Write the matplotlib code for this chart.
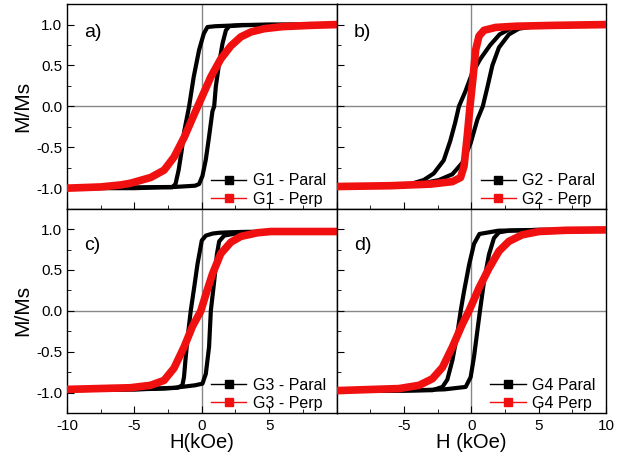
import matplotlib
matplotlib.use("Agg")
import matplotlib.pyplot as plt
from matplotlib.lines import Line2D
from matplotlib.ticker import MultipleLocator

plt.rcParams['font.family'] = ['Liberation Sans', 'DejaVu Sans']
plt.rcParams['axes.unicode_minus'] = False

# valores: ramo ascendente (up), descendente (down) e perpendicular
a_up_H = [-10, -5, -2, -0.5, -0.2, 0.05, 0.30, 0.54, 0.79, 0.92, 1.04, 1.29, 1.54, 1.79, 2.03, 3, 10]
a_up_M = [-1.0, -0.99, -0.985, -0.97, -0.95, -0.85, -0.65, -0.37, -0.06, 0.0, 0.24, 0.53, 0.77, 0.93, 0.98, 0.995, 1.0]
a_dn_H = [10, 5, 2.5, 1.0, 0.42, 0.15, -0.2, -0.6, -0.94, -1.3, -1.5, -1.72, -1.95, -2.2, -3, -5, -10]
a_dn_M = [1.0, 1.0, 0.99, 0.98, 0.97, 0.89, 0.69, 0.36, 0.0, -0.3, -0.55, -0.78, -0.95, -0.99, -0.99, -1.0, -1.0]
a_pp_H = [-10, -7.5, -6, -5.3, -3.8, -2.8, -2.06, -1.31, -0.57, -0.3, 0.67, 1.41, 2.16, 2.9, 3.65, 4.64, 6, 8, 10]
a_pp_M = [-1.0, -0.985, -0.96, -0.94, -0.87, -0.78, -0.62, -0.38, -0.10, 0.0, 0.36, 0.58, 0.74, 0.85, 0.91, 0.95, 0.975, 0.99, 1.0]

b_up_H = [-10, -6, -3.87, -2.4, -1.41, -0.67, -0.05, 0.45, 0.85, 1.2, 1.56, 2.05, 2.79, 3.53, 4.52, 6, 10]
b_up_M = [-0.98, -0.97, -0.95, -0.90, -0.83, -0.69, -0.45, -0.16, 0.0, 0.24, 0.50, 0.72, 0.88, 0.95, 0.975, 0.99, 1.0]
b_dn_H = [10, 6, 4.0, 2.9, 2.1, 1.4, 0.67, 0.05, -0.45, -0.92, -1.2, -1.56, -2.05, -2.79, -3.53, -4.52, -6, -10]
b_dn_M = [1.0, 0.99, 0.975, 0.95, 0.88, 0.75, 0.58, 0.40, 0.18, 0.0, -0.2, -0.42, -0.66, -0.82, -0.90, -0.95, -0.97, -0.98]
b_pp_H = [-10, -6, -3, -1.4, -0.8, -0.54, -0.30, -0.10, 0.13, 0.32, 0.57, 0.94, 1.8, 3.3, 6, 10]
b_pp_M = [-0.98, -0.97, -0.95, -0.92, -0.87, -0.73, -0.36, 0.0, 0.36, 0.69, 0.86, 0.93, 0.965, 0.98, 0.99, 1.0]

c_up_H = [-10, -5, -2, -0.5, 0.05, 0.30, 0.54, 0.67, 0.92, 1.12, 1.29, 1.66, 2.65, 4.64, 10]
c_up_M = [-0.97, -0.96, -0.94, -0.91, -0.89, -0.77, -0.44, 0.0, 0.36, 0.69, 0.85, 0.92, 0.95, 0.97, 0.97]
c_dn_H = [10, 5, 3, 2, 1.3, 0.8, 0.3, 0.0, -0.32, -0.57, -0.82, -1.02, -1.19, -1.32, -1.44, -1.8, -2.8, -5, -10]
c_dn_M = [0.97, 0.97, 0.965, 0.96, 0.955, 0.945, 0.92, 0.86, 0.57, 0.28, 0.0, -0.28, -0.56, -0.81, -0.91, -0.94, -0.95, -0.96, -0.97]
c_pp_H = [-10, -5.3, -3.8, -2.8, -2.06, -1.31, -0.69, -0.07, 0.30, 0.79, 1.41, 2.16, 2.9, 4.14, 5.13, 10]
c_pp_M = [-0.96, -0.94, -0.91, -0.85, -0.70, -0.44, -0.19, 0.0, 0.20, 0.45, 0.70, 0.84, 0.91, 0.955, 0.97, 0.97]

d_up_H = [-10, -5, -2, -0.42, -0.05, 0.20, 0.45, 0.64, 0.94, 1.31, 1.68, 2.05, 2.79, 5, 10]
d_up_M = [-0.98, -0.975, -0.96, -0.93, -0.81, -0.56, -0.24, 0.0, 0.36, 0.69, 0.89, 0.96, 0.98, 0.99, 0.99]
d_dn_H = [10, 5, 2, 0.6, 0.20, -0.17, -0.54, -0.79, -1.04, -1.40, -1.78, -2.14, -2.89, -5, -10]
d_dn_M = [0.99, 0.99, 0.98, 0.94, 0.82, 0.56, 0.24, 0.0, -0.28, -0.60, -0.84, -0.93, -0.97, -0.975, -0.98]
d_pp_H = [-10, -5.36, -3.87, -2.89, -2.14, -1.40, -0.66, -0.17, 0.57, 1.31, 2.05, 2.79, 3.78, 5.02, 7, 10]
d_pp_M = [-0.975, -0.95, -0.91, -0.83, -0.69, -0.44, -0.16, 0.0, 0.28, 0.52, 0.73, 0.85, 0.93, 0.97, 0.985, 0.99]

c_xticks = [-10, -5, 0, 5]
d_xticks = [-5, 0, 5, 10]

panels = [
    ('a)', a_up_H, a_up_M, a_dn_H, a_dn_M, a_pp_H, a_pp_M, 'G1 - Paral', 'G1 - Perp'),
    ('b)', b_up_H, b_up_M, b_dn_H, b_dn_M, b_pp_H, b_pp_M, 'G2 - Paral', 'G2 - Perp'),
    ('c)', c_up_H, c_up_M, c_dn_H, c_dn_M, c_pp_H, c_pp_M, 'G3 - Paral', 'G3 - Perp'),
    ('d)', d_up_H, d_up_M, d_dn_H, d_dn_M, d_pp_H, d_pp_M, 'G4 Paral', 'G4 Perp'),
]

RED = '#f01010'

fig, axs = plt.subplots(2, 2, figsize=(6.34, 4.59), dpi=100)
fig.subplots_adjust(left=0.1057, right=0.956, top=0.991, bottom=0.100, hspace=0, wspace=0)

for i, (ax, p) in enumerate(zip(axs.flat, panels)):
    lab, uh, um, dh, dm, ph, pm, l1, l2 = p
    ax.axhline(0, color='#888888', lw=1, zorder=1)
    ax.axvline(0, color='#888888', lw=1, zorder=1)
    ax.plot(uh, um, color='black', lw=3, zorder=2)
    ax.plot(dh, dm, color='black', lw=3, zorder=2)
    ax.plot(ph, pm, color=RED, lw=5.5, zorder=3)
    ax.set_xlim(-10, 10)
    ax.set_ylim(-1.25, 1.25)
    ax.xaxis.set_major_locator(MultipleLocator(5))
    ax.xaxis.set_minor_locator(MultipleLocator(2.5))
    ax.yaxis.set_major_locator(MultipleLocator(0.5))
    ax.yaxis.set_minor_locator(MultipleLocator(0.25))
    ax.tick_params(which='both', direction='in', labelsize=11)
    ax.tick_params(which='major', length=5)
    ax.tick_params(which='minor', length=3)
    ax.tick_params(axis='x', pad=4)
    ax.tick_params(axis='y', pad=3.5)
    if i < 2:
        ax.tick_params(axis='x', labelbottom=False)
    if i % 2 == 1:
        ax.tick_params(axis='y', labelleft=False)
    for s in ax.spines.values():
        s.set_linewidth(1)
    ypos = 0.86 if i < 2 else 0.82
    ax.text(0.065, ypos, lab, transform=ax.transAxes, fontsize=14, ha='left', va='center')
    handles = [
        Line2D([], [], color='black', lw=1, marker='s', ms=6),
        Line2D([], [], color=RED, lw=1, marker='s', ms=6),
    ]
    ax.legend(handles, [l1, l2], loc='lower right', bbox_to_anchor=(0.96, 0.01),
              frameon=False, fontsize=11.5, handlelength=2.2, handletextpad=0.4,
              labelspacing=0.2, borderaxespad=0, borderpad=0)

axs[1, 0].set_xticks(c_xticks)
axs[1, 0].set_xticklabels([str(v) for v in c_xticks])
axs[1, 1].set_xticks(d_xticks)
axs[1, 1].set_xticklabels([str(v) for v in d_xticks])
axs[1, 0].xaxis.set_minor_locator(MultipleLocator(2.5))
axs[1, 1].xaxis.set_minor_locator(MultipleLocator(2.5))

axs[0, 0].set_ylabel('M/Ms', fontsize=15, labelpad=3)
axs[1, 0].set_ylabel('M/Ms', fontsize=15, labelpad=3)
axs[1, 0].set_xlabel('H(kOe)', fontsize=14.5, labelpad=0)
axs[1, 1].set_xlabel('H (kOe)', fontsize=14.5, labelpad=0)

fig.savefig('out.png', dpi=100)
